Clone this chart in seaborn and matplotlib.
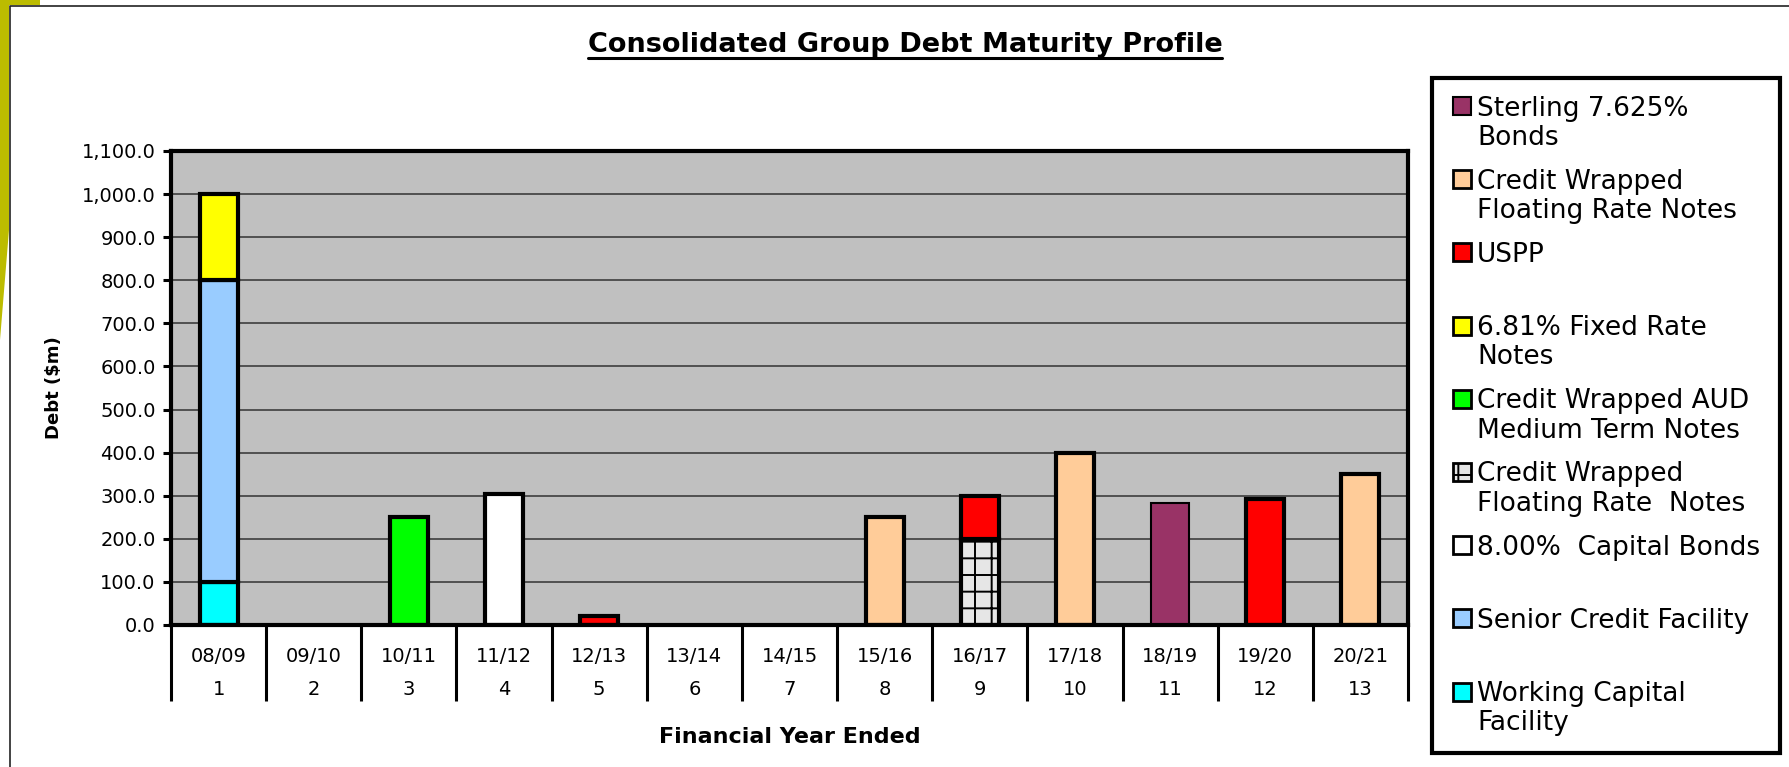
import pandas as pd
import matplotlib
matplotlib.use("Agg")
import matplotlib.pyplot as plt
import seaborn as sns
from matplotlib.patches import Rectangle, Polygon
from matplotlib.lines import Line2D
from matplotlib.ticker import FuncFormatter, MultipleLocator

# Categorias (ano financeiro) e numero de ordem
years = ["08/09", "09/10", "10/11", "11/12", "12/13", "13/14", "14/15",
         "15/16", "16/17", "17/18", "18/19", "19/20", "20/21"]
year_index = ["1", "2", "3", "4", "5", "6", "7", "8", "9", "10", "11", "12", "13"]

# Valores por serie ($m), na ordem de empilhamento (base primeiro)
working_capital = [100, 0, 0, 0, 0, 0, 0, 0, 0, 0, 0, 0, 0]
senior_credit = [700, 0, 0, 0, 0, 0, 0, 0, 0, 0, 0, 0, 0]
capital_bonds = [0, 0, 0, 305, 0, 0, 0, 0, 0, 0, 0, 0, 0]
frn_hatched = [0, 0, 0, 0, 0, 0, 0, 0, 200, 0, 0, 0, 0]
aud_mtn = [0, 0, 250, 0, 0, 0, 0, 0, 0, 0, 0, 0, 0]
fixed_681 = [200, 0, 0, 0, 0, 0, 0, 0, 0, 0, 0, 0, 0]
uspp = [0, 0, 0, 0, 20, 0, 0, 0, 100, 0, 0, 293, 0]
frn_peach = [0, 0, 0, 0, 0, 0, 0, 250, 0, 400, 0, 0, 350]
sterling = [0, 0, 0, 0, 0, 0, 0, 0, 0, 0, 283, 0, 0]

series_labels = [
    "Working Capital\nFacility",
    "Senior Credit Facility",
    "8.00%  Capital Bonds",
    "Credit Wrapped\nFloating Rate  Notes",
    "Credit Wrapped AUD\nMedium Term Notes",
    "6.81% Fixed Rate\nNotes",
    "USPP",
    "Credit Wrapped\nFloating Rate Notes",
    "Sterling 7.625%\nBonds",
]
series_values = [working_capital, senior_credit, capital_bonds, frn_hatched,
                 aud_mtn, fixed_681, uspp, frn_peach, sterling]

# Estilo de cada serie (mesma ordem)
series_colors = ["#00FFFF", "#99CCFF", "#FFFFFF", "#E6E6E6", "#00FF00",
                 "#FFFF00", "#FF0000", "#FFCC99", "#993366"]
series_hatch = [None, None, None, "+", None, None, None, None, None]
series_lw = [3.0, 3.0, 3.0, 3.0, 3.0, 3.0, 3.0, 3.0, 1.5]

W, H = 1789, 767


def px(x, y):
    # pixel (a partir do canto superior esquerdo) -> fracao da figura
    return (x / W, 1 - y / H)


sns.set_theme(style="white")
plt.rcParams["font.family"] = ["DejaVu Sans"]
plt.rcParams["hatch.linewidth"] = 1.4

fig = plt.figure(figsize=(W / 100, H / 100), dpi=100)
ax = fig.add_axes([171 / W, 1 - 625 / H, (1408 - 171) / W, (625 - 151) / H])

# Monta os segmentos empilhados
rows = []
for s, (label, vals) in enumerate(zip(series_labels, series_values)):
    for i, v in enumerate(vals):
        if v > 0:
            base = sum(series_values[k][i] for k in range(s))
            rows.append({"year": years[i], "value": v, "bottom": base, "s": s})
seg = pd.DataFrame(rows)

for r in seg.itertuples():
    sns.barplot(x=[r.year], y=[r.value], order=years, bottom=r.bottom,
                color=series_colors[r.s], saturation=1, width=0.4,
                edgecolor="black", linewidth=series_lw[r.s],
                hatch=series_hatch[r.s], errorbar=None, ax=ax)

ax.set_facecolor("#C0C0C0")
ax.set_xlim(-0.5, 12.5)
ax.set_ylim(0, 1100)
ax.yaxis.set_major_locator(MultipleLocator(100))
ax.yaxis.set_major_formatter(FuncFormatter(lambda v, p: f"{v:,.1f}"))
ax.grid(axis="y", color="#333333", linewidth=1.1)
ax.grid(axis="x", visible=False)
ax.set_axisbelow(True)

for sp in ax.spines.values():
    sp.set_visible(True)
    sp.set_color("black")
    sp.set_linewidth(3)

ax.tick_params(axis="y", left=True, direction="out", length=6, width=2.2,
               color="black", labelsize=14, pad=5, labelcolor="black")

ax.set_xticks(range(len(years)), [f"{y}\n{n}" for y, n in zip(years, year_index)])
ax.set_xticks([i - 0.5 for i in range(len(years) + 1)], minor=True)
ax.tick_params(axis="x", which="major", length=0, labelsize=14, pad=16,
               labelcolor="black")
ax.tick_params(axis="x", which="minor", bottom=True, direction="out",
               length=55, width=2.2, color="black")
for lbl in ax.get_xticklabels():
    lbl.set_linespacing(1.9)

ax.set_xlabel("Financial Year Ended", fontsize=16, fontweight="bold", color="black")
ax.xaxis.set_label_coords(0.5, (625 - 737) / 474)
ax.xaxis.label.set_va("center")
ax.set_ylabel("Debt ($m)", fontsize=13, fontweight="bold", color="black")
ax.yaxis.set_label_coords((54 - 171) / 1237, 0.5)
ax.yaxis.label.set_va("center")

# Decoracao do slide: faixa oliva e moldura fina
olive = [(0, 0), (40, 0), (40, 5), (9, 5), (9, 230), (0, 340)]
fig.add_artist(Polygon([px(x, y) for x, y in olive], closed=True,
                       facecolor="#BCBC00", edgecolor="none",
                       transform=fig.transFigure))
fig.add_artist(Line2D([10 / W, 10 / W, 1], [0, 1 - 6 / H, 1 - 6 / H],
                      color="#222222", linewidth=1.2, transform=fig.transFigure))

# Titulo sublinhado
title = fig.text(905 / W, 1 - 52 / H, "Consolidated Group Debt Maturity Profile",
                 ha="center", va="baseline", fontsize=19.5, fontweight="bold",
                 color="black")

# Legenda (caixa a direita), de cima para baixo
leg_x0, leg_y0, leg_x1, leg_y1 = 1432, 78, 1780, 753
fig.add_artist(Rectangle(px(leg_x0, leg_y1), (leg_x1 - leg_x0) / W,
                         (leg_y1 - leg_y0) / H, fill=False, edgecolor="black",
                         linewidth=3, transform=fig.transFigure))
first_y, step, box = 106, 73.2, 18
for j, s in enumerate(reversed(range(len(series_labels)))):
    yc = first_y + j * step
    fig.add_artist(Rectangle(px(1462 - box / 2, yc + box / 2), box / W, box / H,
                             facecolor=series_colors[s], edgecolor="black",
                             linewidth=min(series_lw[s], 2.0),
                             hatch=series_hatch[s], transform=fig.transFigure))
    fig.text(1477 / W, 1 - (yc - 10.5) / H, series_labels[s], ha="left", va="top",
             fontsize=19, linespacing=1.17, color="black")

fig.canvas.draw()
bb = title.get_window_extent(fig.canvas.get_renderer())
fig.add_artist(Line2D([bb.x0 / W, bb.x1 / W], [1 - 57.5 / H, 1 - 57.5 / H],
                      color="black", linewidth=2.2, transform=fig.transFigure))

fig.savefig("out.png", dpi=100)
